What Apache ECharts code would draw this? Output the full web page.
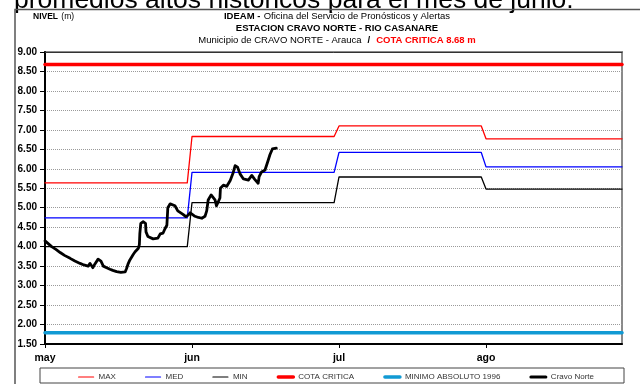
<!DOCTYPE html>
<html>
<head>
<meta charset="utf-8">
<script src="https://cdn.jsdelivr.net/npm/echarts@6/dist/echarts.min.js"></script>
<style>
  html, body { margin: 0; padding: 0; background: #fff; }
  #chart { width: 640px; height: 384px; }
</style>
</head>
<body>
<div id="chart"></div>
<script>
// Month ticks of the time axis (May to August)
const monthLabels = ['may', 'jun', 'jul', 'ago'];
const monthDays = [31, 30, 31, 31];

// Historical monthly levels (m)
const nivelMax = [5.64, 6.83, 7.10, 6.77];
const nivelMed = [4.74, 5.91, 6.42, 6.05];
const nivelMin = [4.00, 5.13, 5.79, 5.48];

// Reference levels (m)
const cotaCritica = 8.68;
const minimoAbsoluto1996 = 1.79;

// Cravo Norte gauge readings: days elapsed since 1 May, level (m)
const cravoDias = [
  0.0, 0.4, 1.4, 2.3, 3.2, 4.2, 5.3, 6.3, 7.4, 8.2,
  9.1, 9.5, 10.1, 10.5, 11.2, 11.8, 12.3, 13.0, 13.7, 14.3,
  15.1, 16.0, 16.9, 17.2, 17.5, 17.9, 18.6, 19.0, 19.7, 19.9,
  20.0, 20.2, 20.7, 21.2, 21.3, 21.7, 22.8, 23.8, 24.3, 24.9,
  25.3, 25.7, 25.9, 26.4, 26.8, 27.4, 28.0, 29.1, 29.7, 30.2,
  30.6, 31.06, 31.6, 32.3, 33.0, 33.65, 34.0, 34.3, 34.9, 35.3,
  35.7, 36.0, 36.4, 36.7, 36.8, 37.4, 38.1, 38.8, 39.4, 39.8,
  40.3, 40.8, 41.5, 42.5, 43.2, 43.8, 44.5, 44.7, 45.2, 45.9,
  46.2, 46.5, 46.9, 47.4, 48.2
];
const cravoNivel = [
  4.15, 4.12, 4.00, 3.93, 3.85, 3.77, 3.70, 3.63, 3.57, 3.53,
  3.50, 3.57, 3.46, 3.55, 3.68, 3.63, 3.50, 3.46, 3.42, 3.39,
  3.36, 3.34, 3.35, 3.44, 3.55, 3.66, 3.80, 3.87, 3.96, 4.05,
  4.34, 4.60, 4.64, 4.60, 4.38, 4.26, 4.20, 4.22, 4.33, 4.35,
  4.46, 4.55, 5.00, 5.10, 5.15, 5.05, 4.92, 4.83, 4.77, 4.81,
  4.87, 4.83, 4.78, 4.75, 4.73, 4.78, 4.92, 5.20, 5.33, 5.31,
  5.20, 5.05, 5.05, 5.25, 5.50, 5.58, 5.55, 5.70, 5.90, 6.08,
  6.04, 5.87, 5.74, 5.71, 5.83, 5.73, 5.63, 5.80, 5.92, 5.97,
  6.02, 6.20, 6.36, 6.51, 6.53
];

// The horizontal axis runs in month units (each month has equal width)
const X_MAX = 3.925;

function diaAEje(d) {
  let m = 0;
  while (m < monthDays.length - 1 && d >= monthDays[m]) {
    d -= monthDays[m];
    m++;
  }
  return m + d / monthDays[m];
}

// Monthly values held from the first to the last day of each month
function escalones(vals) {
  const pts = [];
  let inicio = 0;
  vals.forEach((v, m) => {
    pts.push([diaAEje(inicio), v]);
    const fin = m === vals.length - 1 ? X_MAX : diaAEje(inicio + monthDays[m] - 1);
    pts.push([fin, v]);
    inicio += monthDays[m];
  });
  return pts;
}

const horizontal = v => [[0, v], [X_MAX, v]];
const cravoData = cravoDias.map((d, i) => [diaAEje(d), cravoNivel[i]]);

// Pick a condensed face for the legend when one is installed
function hasFont(name) {
  const c = document.createElement('canvas').getContext('2d');
  c.font = '20px monospace';
  const a = c.measureText('MINIMO ABSOLUTO 1996').width;
  c.font = '20px "' + name + '", monospace';
  return c.measureText('MINIMO ABSOLUTO 1996').width !== a;
}
const narrow = hasFont('Liberation Sans Narrow');
const legendFont = narrow ? 'Liberation Sans Narrow' : 'Liberation Sans';
const legendSize = narrow ? 9.5 : 8;

const BASE = '"Liberation Sans", Arial, Helvetica, sans-serif';

const chart = echarts.init(document.getElementById('chart'), null, { renderer: 'canvas' });

const lineSeries = (name, data, color, width, z) => ({
  name, type: 'line', data, color,
  symbol: 'none', showSymbol: false, silent: true, z,
  lineStyle: { color, width, join: 'round', cap: 'round' },
  emphasis: { disabled: true }
});

chart.setOption({
  animation: false,
  backgroundColor: '#ffffff',
  grid: {
    left: 45, right: 18, top: 52, bottom: 40,
    show: true, borderColor: '#8a8a8a', borderWidth: 2, backgroundColor: 'transparent'
  },
  xAxis: [{
    type: 'value', min: 0, max: X_MAX, position: 'bottom',
    axisLine: { show: true, onZero: false, lineStyle: { color: '#000', width: 2 } },
    axisTick: { show: true, customValues: [0, 1, 2, 3], length: 4, lineStyle: { color: '#000', width: 1 } },
    axisLabel: {
      customValues: [0, 1, 2, 3],
      formatter: v => monthLabels[Math.round(v)] || '',
      fontFamily: BASE, fontWeight: 'bold', fontSize: 10.5, color: '#000', margin: 9
    },
    splitLine: { show: false }
  }, {
    type: 'value', min: 0, max: X_MAX, position: 'top',
    axisLine: { show: true, onZero: false, lineStyle: { color: '#333', width: 1 } },
    axisTick: { show: false }, axisLabel: { show: false }, splitLine: { show: false }
  }],
  yAxis: {
    type: 'value', min: 1.5, max: 9, interval: 0.5,
    axisLine: { show: true, lineStyle: { color: '#000', width: 2 } },
    axisTick: { show: true, length: 5, lineStyle: { color: '#000', width: 1 } },
    axisLabel: {
      formatter: v => v.toFixed(2),
      fontFamily: BASE, fontWeight: 'bold', fontSize: 10, color: '#000', margin: 8
    },
    splitLine: { show: true, lineStyle: { color: '#9a9a9a', width: 1, type: [1, 1] } }
  },
  legend: {
    orient: 'horizontal', left: 73, top: 368, width: 560,
    itemGap: 29, itemWidth: 15, itemHeight: 10,
    selectedMode: false,
    itemStyle: { opacity: 0 },
    textStyle: { fontFamily: legendFont, fontSize: legendSize, color: '#333' },
    data: [
      { name: 'MAX', lineStyle: { width: 1.2 } },
      { name: 'MED', lineStyle: { width: 1.2 } },
      { name: 'MIN', lineStyle: { width: 1.2 } },
      { name: 'COTA CRITICA', lineStyle: { width: 3.5 } },
      { name: 'MINIMO ABSOLUTO 1996', lineStyle: { width: 3.5 } },
      { name: 'Cravo Norte', lineStyle: { width: 3 } }
    ]
  },
  series: [
    lineSeries('MAX', escalones(nivelMax), '#ff0000', 1.3, 3),
    lineSeries('MED', escalones(nivelMed), '#0000ff', 1.3, 3),
    lineSeries('MIN', escalones(nivelMin), '#000000', 1.3, 3),
    lineSeries('COTA CRITICA', horizontal(cotaCritica), '#ff0000', 3.5, 4),
    lineSeries('MINIMO ABSOLUTO 1996', horizontal(minimoAbsoluto1996), '#119ad4', 3.5, 4),
    lineSeries('Cravo Norte', cravoData, '#000000', 2.8, 5)
  ],
  graphic: [
    {
      type: 'text', left: 14, top: -13, silent: true,
      style: {
        text: 'promedios altos históricos para el mes de junio.',
        font: '26.5px ' + BASE, fill: '#000'
      }
    },
    {
      type: 'polyline', silent: true,
      shape: { points: [[15, 384], [15, 9.5], [640, 9.5]] },
      style: { stroke: '#555', lineWidth: 1.5, fill: null }
    },
    {
      type: 'text', x: 33, y: 11, silent: true,
      style: {
        text: '{b|NIVEL} {n|(m)}',
        rich: {
          b: { font: 'bold 8.5px ' + BASE, fill: '#000' },
          n: { font: '8.5px ' + BASE, fill: '#000' }
        }
      }
    },
    {
      type: 'text', x: 337, y: 10, silent: true,
      style: {
        text: '{b|IDEAM -} {n|Oficina del Servicio de Pronósticos y Alertas}\n' +
              '{b|ESTACION CRAVO NORTE - RIO CASANARE}\n' +
              '{n|Municipio de CRAVO NORTE - Arauca} {b| / } {r|COTA CRITICA ' + cotaCritica.toFixed(2) + ' m}',
        align: 'center', verticalAlign: 'top', lineHeight: 12,
        rich: {
          b: { font: 'bold 9.5px ' + BASE, fill: '#000', lineHeight: 12 },
          n: { font: '9.5px ' + BASE, fill: '#000', lineHeight: 12 },
          r: { font: 'bold 9.5px ' + BASE, fill: '#ff0000', lineHeight: 12 }
        }
      }
    },
    {
      type: 'rect', silent: true,
      shape: { x: 40, y: 368, width: 584, height: 15 },
      style: { fill: null, stroke: '#444', lineWidth: 1 }
    }
  ]
});
</script>
</body>
</html>
